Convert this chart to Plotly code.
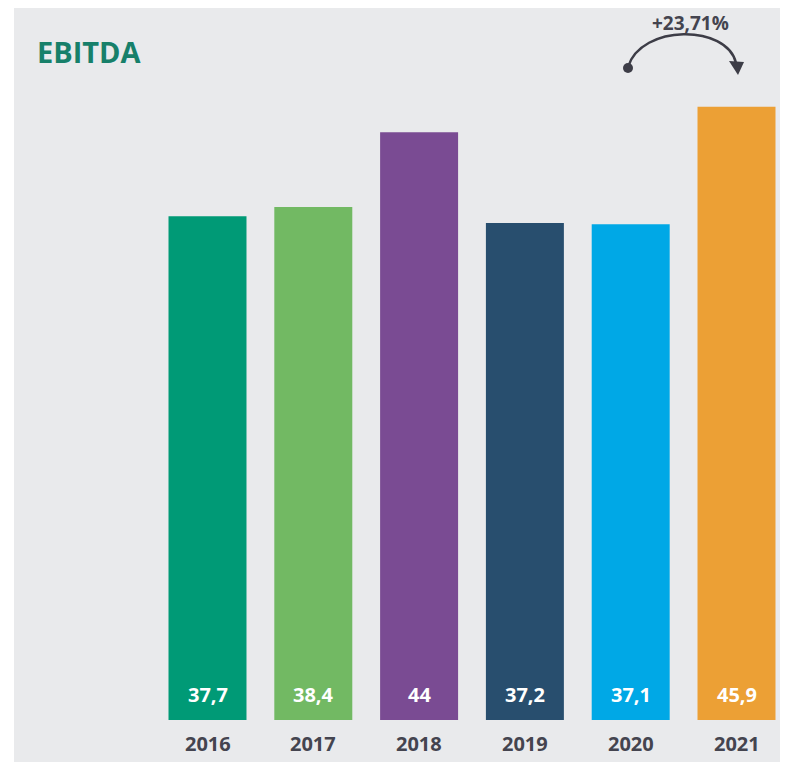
import plotly.graph_objects as go

years = ["2016", "2017", "2018", "2019", "2020", "2021"]
ebitda = [37.7, 38.4, 44, 37.2, 37.1, 45.9]
bar_colors = ["#009a76", "#72b963", "#7a4b93", "#284e6e", "#00a8e6", "#eca035"]
growth_label = "+23,71%"

# page body adds an 8px margin, so the figure is 780x754
W, H = 780, 754
L, T = 6, 0
PW, PH = W - L, H - T
REF_H = 762  # reference image height, used for the decorative arrow


def pp(x, y):
    # reference pixel -> paper coords (decorations only)
    return (x - 8 - L) / PW, (REF_H - y) / PH


def fmt(v):
    return f"{v:g}".replace(".", ",")


fig = go.Figure(
    go.Bar(
        x=years,
        y=ebitda,
        marker=dict(color=bar_colors, line=dict(width=0)),
        width=0.737,
        hoverinfo="skip",
    )
)

font = "Open Sans, Lato, sans-serif"

# value labels inside bars, year labels below
for i, (yr, v) in enumerate(zip(years, ebitda)):
    fig.add_annotation(
        x=i, y=0, text=f"<b>{fmt(v)}</b>", showarrow=False,
        yanchor="middle", yshift=26,
        font=dict(family=font, size=20, color="white"),
    )
    fig.add_annotation(
        x=i, y=0, text=f"<b>{yr}</b>", showarrow=False,
        yanchor="middle", yshift=-23,
        font=dict(family=font, size=20, color="#44444f"),
    )

fig.add_annotation(
    xref="paper", yref="paper", x=pp(35, 0)[0], y=pp(0, 52)[1],
    text="<b>EBITDA</b>", showarrow=False, xanchor="left", yanchor="middle",
    font=dict(family=font, size=29, color="#17806a"),
)
fig.add_annotation(
    xref="paper", yref="paper", x=pp(690, 0)[0], y=1,
    text=f"<b>{growth_label}</b>", showarrow=False, xanchor="center", yanchor="top",
    font=dict(family=font, size=19, color="#44444f"),
)

# curved arrow
p0, p1, p2, p3 = pp(628, 67), pp(641, 24), pp(727, 24), pp(736, 63)
fig.add_shape(
    type="path", xref="paper", yref="paper",
    path=f"M {p0[0]},{p0[1]} C {p1[0]},{p1[1]} {p2[0]},{p2[1]} {p3[0]},{p3[1]}",
    line=dict(color="#3d3d47", width=2.5),
)
a, b, c = pp(729, 61), pp(744, 62), pp(738, 75)
fig.add_shape(
    type="path", xref="paper", yref="paper",
    path=f"M {a[0]},{a[1]} L {b[0]},{b[1]} L {c[0]},{c[1]} Z",
    fillcolor="#3d3d47", line=dict(width=0),
)
d0, d1 = pp(623, 73), pp(633, 63)
fig.add_shape(
    type="circle", xref="paper", yref="paper",
    x0=d0[0], y0=d0[1], x1=d1[0], y1=d1[1],
    fillcolor="#3d3d47", line=dict(width=0),
)

px_per_cat = 105.8
x0 = -(207.5 - 14) / px_per_cat
px_per_unit = 13.36
y_lo = -(REF_H - 720) / px_per_unit
y_hi = y_lo + PH / px_per_unit

fig.update_layout(
    width=W, height=H,
    margin=dict(l=L, r=0, t=T, b=0),
    paper_bgcolor="white",
    plot_bgcolor="#e9eaec",
    showlegend=False,
    xaxis=dict(type="category", range=[x0, x0 + PW / px_per_cat], showticklabels=False,
               showgrid=False, zeroline=False, fixedrange=True),
    yaxis=dict(range=[y_lo, y_hi], showticklabels=False,
               showgrid=False, zeroline=False, fixedrange=True),
)

fig.write_html("out.html")
